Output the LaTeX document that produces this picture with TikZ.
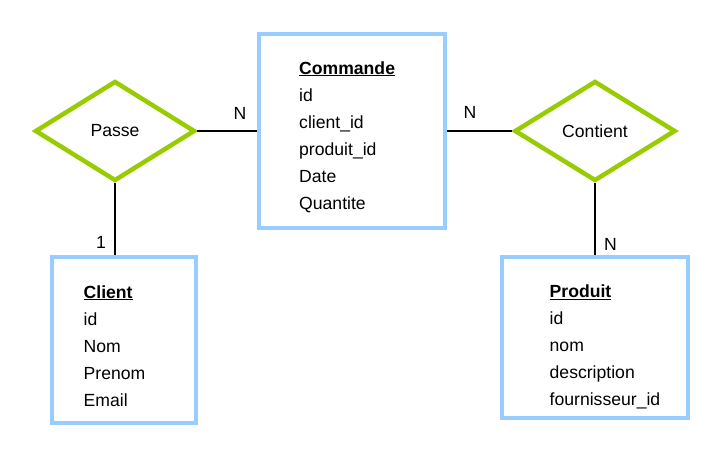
\documentclass[tikz,border=0pt]{standalone}
\usepackage{fontspec}
\setmainfont{Liberation Sans}
\usetikzlibrary{shapes.geometric}
\definecolor{entblue}{HTML}{99CCFF}
\definecolor{relgreen}{HTML}{99CC00}
\begin{document}
\begin{tikzpicture}[x=1pt,y=-1pt,
  every node/.style={font=\fontsize{17.6}{27}\selectfont},
  entity/.style={draw=entblue,line width=4.5pt,rectangle,inner sep=0pt,fill=white},
  relation/.style={draw=relgreen,line width=4.5pt,diamond,inner sep=0pt,fill=white},
  attr/.style={anchor=base west,inner sep=0pt},
  card/.style={anchor=base,inner sep=0pt},
  link/.style={draw=black,line width=1.6pt}]
\useasboundingbox[fill=white] (0,0) rectangle (722,458);
% entities
\node[entity,minimum width=186pt,minimum height=194pt] (commande) at (352,131) {};
\node[entity,minimum width=144pt,minimum height=166pt] (client) at (124,340) {};
\node[entity,minimum width=186pt,minimum height=161pt] (produit) at (595,337.5) {};
% relations
\node[relation,minimum width=160pt,minimum height=100pt] (passe) at (115,131) {Passe};
\node[relation,minimum width=161pt,minimum height=100pt] (contient) at (595,131) {Contient};
% connectors
\draw[link] (passe.east) -- (commande.west);
\draw[link] (commande.east) -- (contient.west);
\draw[link] (passe.south) -- (passe.south |- client.north);
\draw[link] (contient.south) -- (produit.north);
% cardinalities
\node[card] (n1) at (240,119) {N};
\node[card] (n2) at (470,118.5) {N};
\node[card] (n3) at (101,248) {1};
\node[card] (n4) at (610.5,250) {N};
% Commande attributes
\node[attr] (c0) at (299,74) {\underline{\textbf{Commande}}};
\foreach \t [count=\i] in {id,client\_id,produit\_id,Date,Quantite}
  \node[attr] (c\i) at (299,{74+27*\i}) {\t};
% Client attributes
\node[attr] (k0) at (83.5,298) {\underline{\textbf{Client}}};
\foreach \t [count=\i] in {id,Nom,Prenom,Email}
  \node[attr] (k\i) at (83.5,{298+27*\i}) {\t};
% Produit attributes
\node[attr] (p0) at (549.5,297.5) {\underline{\textbf{Produit}}};
\foreach \t [count=\i] in {id,nom,description,fournisseur\_id}
  \node[attr] (p\i) at (549.5,{297.5+27*\i}) {\t};
\end{tikzpicture}
\end{document}
